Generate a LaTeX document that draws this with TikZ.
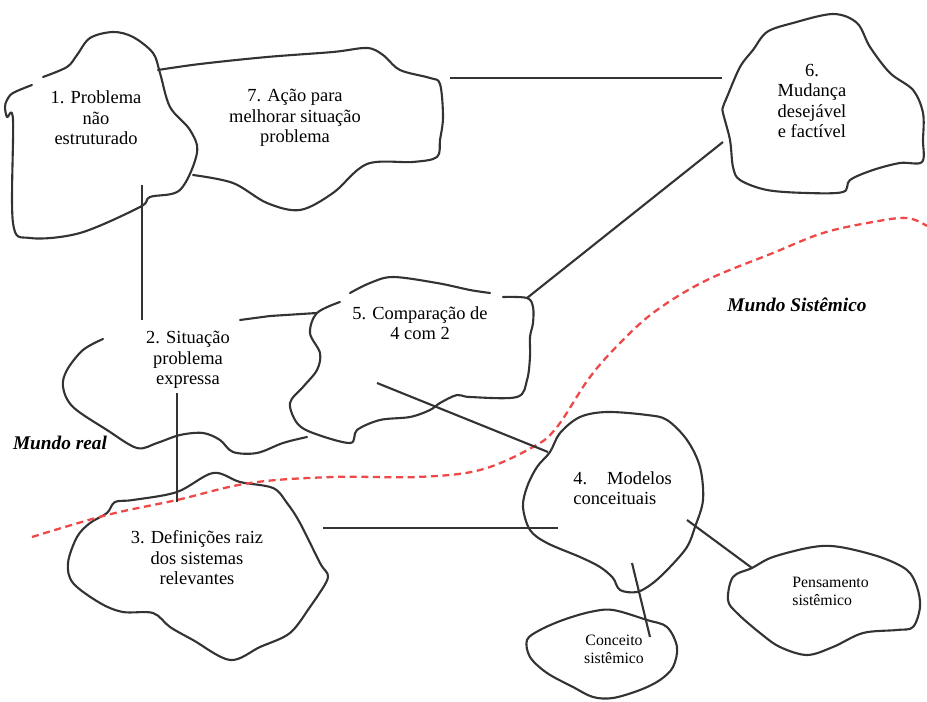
\documentclass[tikz,border=0pt]{standalone}
\usepackage{fontspec}
\setmainfont{Liberation Serif}
\definecolor{dashred}{RGB}{238,72,72}
\tikzset{blob/.style={draw=black!80,line width=1.2pt,line join=round,line cap=round}}

\begin{document}
\begin{tikzpicture}[x=0.02cm,y=-0.02cm]
      \useasboundingbox (0,0) rectangle (927,702);
      % outlines
      \draw[blob] plot[smooth,tension=0.55] coordinates {(32,85) (13,93) (7,100) (5,107) (7,117) (13,120) (13,223) (30,238) (80,233) (140,207) (150,197) (180,190) (197,153) (190,130) (170,107) (160,73) (153,53) (133,37) (113,32) (90,38) (77,55) (67,67) (43,77)};
      \draw[blob] plot[smooth,tension=0.55] coordinates {(158,70) (200,64) (267,57) (333,52) (367,48) (383,55) (400,70) (430,78) (440,84) (443,117) (440,140) (437,157) (413,162) (367,164) (333,193) (300,210) (267,203) (233,183) (193,175)};
      \draw[blob] plot[smooth cycle,tension=0.55] coordinates {(723,107) (727,97) (740,67) (753,50) (767,32) (793,23) (833,14) (857,23) (870,47) (890,73) (913,90) (923,113) (923,140) (922,162) (900,163) (873,170) (850,180) (843,192) (807,193) (767,190) (740,180) (733,167) (730,140) (723,113)};
      \draw[blob] plot[smooth,tension=0.55] coordinates {(103,339) (83,350) (67,370) (63,387) (73,407) (107,430) (137,448) (157,443) (180,435) (203,433) (220,440) (233,452) (257,453) (283,443) (307,437)};
      \draw[blob] (240,320) -- (270,316) -- (317,313);
      \draw[blob] plot[smooth,tension=0.55] coordinates {(350,293) (370,283) (393,277) (437,283) (470,290) (490,293)};
      \draw[blob] plot[smooth,tension=0.55] coordinates {(503,297) (527,298) (533,307) (533,323) (530,337) (530,357) (527,380) (517,397) (470,397) (457,395) (440,403) (430,410) (410,417) (380,420) (357,430) (350,443) (313,433) (297,423) (290,403) (303,387) (317,370) (320,353) (310,333) (317,313) (340,302)};
      \draw[blob] plot[smooth cycle,tension=0.55] coordinates {(115,502) (133,500) (177,492) (213,473) (240,482) (273,488) (287,503) (300,523) (320,563) (328,577) (317,597) (310,607) (290,633) (260,647) (230,660) (193,640) (170,627) (153,613) (123,612) (100,603) (73,583) (68,563) (77,537) (90,523) (107,513)};
      \draw[blob] plot[smooth cycle,tension=0.55] coordinates {(550,452) (560,433) (580,417) (607,412) (647,415) (667,420) (687,440) (700,467) (703,500) (695,527) (687,547) (670,567) (653,583) (637,592) (620,590) (613,578) (600,567) (580,557) (547,543) (530,530) (523,507) (527,487) (537,467)};
      \draw[blob] plot[smooth cycle,tension=0.55] coordinates {(728,600) (733,577) (752,568) (773,557) (813,547) (840,547) (880,557) (907,570) (917,587) (920,607) (913,627) (897,630) (863,633) (833,647) (807,655) (780,647) (760,633) (737,613)};
      \draw[blob] plot[smooth cycle,tension=0.55] coordinates {(563,620) (590,612) (613,610) (647,620) (667,627) (677,647) (673,667) (660,680) (640,690) (613,698) (593,697) (573,687) (547,673) (530,657) (527,640) (540,630)};
      % border between the two worlds
      \draw[dashred,line width=1.3pt,dash pattern=on 4pt off 2.6pt] plot[smooth,tension=0.6] coordinates {(32,537) (107,515) (177,500) (250,483) (333,477) (417,477) (480,470) (533,447) (557,427) (590,377) (623,340) (657,310) (707,280) (773,253) (823,233) (873,222) (907,218) (927,226)};
      \begin{scope}[every node/.style={inner sep=0pt,align=center,font=\fontsize{10.5}{11.7}\selectfont}]
        \node (1) at (96,118) {1. Problema\\não\\estruturado};
        \node (7) at (295,118) {7. Ação para\\melhorar situação\\problema};
        \node (6) at (812,101) {6.\\Mudança\\desejável\\e factível};
        \node (2) at (188,360) {2. Situação\\problema\\expressa};
        \node (5) at (420,323) {5. Comparação de\\4 com 2};
        \node (3) at (197,558) {3. Definições raiz\\dos sistemas\\relevantes};
        \node[anchor=west,align=left] (4) at (573,488) {\makebox[56pt]{4.\hfill Modelos}\\conceituais};
        \node[anchor=west,align=left,font=\fontsize{9}{10.3}\selectfont] (p) at (792,591) {Pensamento\\sistêmico};
        \node[font=\fontsize{9}{10.3}\selectfont] (c) at (614,649) {Conceito\\sistêmico};
        \node[font=\fontsize{11}{13}\selectfont\bfseries\itshape] (real) at (60,443) {Mundo real};
        \node[font=\fontsize{11}{13}\selectfont\bfseries\itshape] (sist) at (797,305) {Mundo Sistêmico};
      \end{scope}
      % connector ends
      \coordinate (1s) at (142,185);
      \coordinate (2n) at (142,320);
      \coordinate (2s) at (177,393);
      \coordinate (3n) at (177,502);
      \coordinate (7e) at (450,78);
      \coordinate (6w) at (722,78);
      \coordinate (6sw) at (723,142);
      \coordinate (5ne) at (527,298);
      \coordinate (5c) at (377,383);
      \coordinate (4nw) at (548,452);
      \coordinate (3e) at (323,528);
      \coordinate (4w) at (558,528);
      \coordinate (4se) at (687,520);
      \coordinate (pn) at (752,568);
      \coordinate (4s) at (632,563);
      \coordinate (cn) at (650,637);
      \begin{scope}[every edge/.style={draw=black!80,line width=1.2pt}]
        \path (1s) edge (2n);
        \path (2s) edge (3n);
        \path (7e) edge (6w);
        \path (6sw) edge (5ne);
        \path (5c) edge (4nw);
        \path (3e) edge (4w);
        \path (4se) edge (pn);
        \path (4s) edge (cn);
      \end{scope}
    \end{tikzpicture}
\end{document}
